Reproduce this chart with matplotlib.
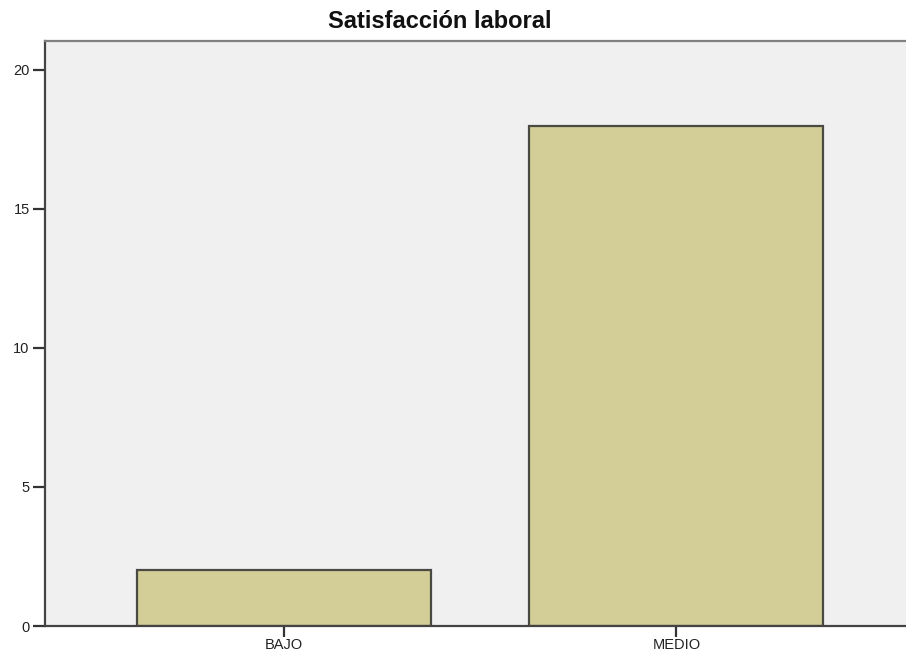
import matplotlib
matplotlib.use("Agg")
import matplotlib.pyplot as plt

categories = ["BAJO", "MEDIO"]
counts = [2, 18]
yticks = [0, 5, 10, 15, 20]

plt.rcParams['font.family'] = ['Liberation Sans', 'DejaVu Sans']

fig = plt.figure(figsize=(9.06, 6.53), dpi=100)
ax = fig.add_axes([45 / 906, 27 / 653, 1 - 45 / 906 + 0.002, (626 - 40.5) / 653])
ax.set_facecolor("#f0f0f0")

x = list(range(len(categories)))
ax.bar(x, counts, width=0.75, color="#d3ce97", edgecolor="#4a4a45", linewidth=1.6, zorder=2)

ax.set_xlim(-0.61, 1.59)
ax.set_ylim(0, 21.06)
ax.set_xticks(x)
ax.set_xticklabels(categories)
ax.set_yticks(yticks)

ax.tick_params(axis="both", direction="out", width=1.6, color="#333333",
               labelsize=10.5, labelcolor="#222222")
ax.tick_params(axis="y", length=9, pad=2)
ax.tick_params(axis="x", length=8, pad=0.5)

for side in ["left", "bottom"]:
    ax.spines[side].set_color("#444444")
    ax.spines[side].set_linewidth(1.6)
ax.spines["top"].set_color("#808080")
ax.spines["top"].set_linewidth(1.6)
ax.spines["right"].set_visible(False)

fig.text(439.5 / 906, 1 - 21 / 653, "Satisfacción laboral", ha="center", va="center",
         fontsize=17, fontweight="bold", color="#111111")

fig.savefig("out.png", dpi=100)
